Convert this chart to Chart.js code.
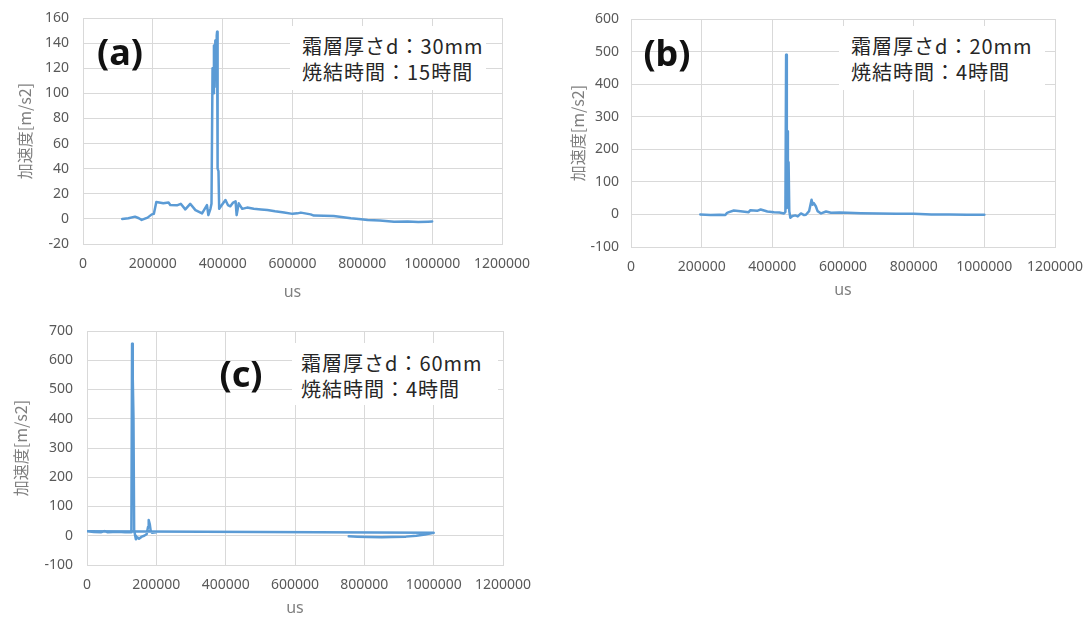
<!DOCTYPE html>
<html lang="ja">
<head>
<meta charset="utf-8">
<script src="https://cdn.jsdelivr.net/npm/chart.js@4.4.1/dist/chart.umd.min.js"></script>
<style>
  html, body { margin: 0; padding: 0; background: #fff; }
  body { width: 1086px; height: 618px; position: relative; overflow: hidden; font-family: 'Noto Sans CJK JP', sans-serif; }
  .panel { position: absolute; }
  .panel canvas { display: block; }
  .tag { position: absolute; transform: translate(-50%, -50%); font-family: 'Noto Sans', sans-serif; font-weight: bold; font-size: 36px; line-height: 1; color: #111; }
  .note { position: absolute; background: #fff; color: #262626; font-size: 20px; letter-spacing: 1px; line-height: 26px; white-space: nowrap; box-sizing: border-box; }
</style>
</head>
<body>

<div class="panel" style="left:0;top:0"><canvas id="chartA" width="530" height="300"></canvas></div>
<div class="panel" style="left:560px;top:0"><canvas id="chartB" width="526" height="300"></canvas></div>
<div class="panel" style="left:0;top:320px"><canvas id="chartC" width="532" height="298"></canvas></div>

<div class="tag" style="left:120px;top:52px">(a)</div>
<div class="tag" style="left:667px;top:53px">(b)</div>
<div class="tag" style="left:241px;top:374px">(c)</div>

<div class="note" style="left:290px;top:26px;width:196px;height:64px;padding:7px 0 0 12px">霜層厚さd：30mm<br>焼結時間：15時間</div>
<div class="note" style="left:839px;top:26px;width:206px;height:64px;padding:7px 0 0 12px">霜層厚さd：20mm<br>焼結時間：4時間</div>
<div class="note" style="left:292px;top:343px;width:206px;height:62px;padding:7px 0 0 9px">霜層厚さd：60mm<br>焼結時間：4時間</div>

<script>
// (a) d=30mm, 15h
const aTime = [
  112000, 130000, 149000, 160000, 168000, 185000, 197000, 203000, 210000, 230000,
  245000, 250000, 269000, 280000, 293000, 307000, 322000, 341000, 355000, 359000,
  365000, 368000, 371000, 373000, 375000, 377000, 379000, 381000, 383000, 384000,
  385500, 388000, 390000, 395000, 408000, 415000, 422000, 430000, 437000, 440000,
  446000, 456000, 470000, 489000, 510000, 528000, 550000, 576000, 600000, 614000,
  624000, 652000, 661000, 690000, 718000, 740000, 767000, 790000, 815000, 850000,
  891000, 930000, 960000, 988000, 1000000
];
const aAccel = [
  0, 0.5, 1.8, 0.5, -0.8, 1, 3.6, 4, 13.5, 12.5,
  13, 11, 10.8, 12, 7.6, 12, 7, 4.4, 11, 3,
  8, 12, 120, 100, 138, 105, 142, 118, 146, 149,
  40, 38, 8, 10, 15, 11, 10, 13, 14, 3,
  12.4, 8, 9, 8, 7.5, 7, 6, 5, 4, 4.4,
  5, 3.6, 2.6, 2.5, 2.3, 1.5, 0.5, 0, -0.9, -1.2,
  -2.2, -2, -2.5, -2.2, -2
];

// (b) d=20mm, 4h
const bTime = [
  196000, 225000, 250000, 267000, 272000, 277000, 291000, 310000, 333000, 338000,
  357000, 367000, 386000, 405000, 420000, 433000, 437000, 439000, 441000, 442500,
  444000, 446000, 448000, 451000, 457000, 465000, 472000, 481000, 490000, 495000,
  504000, 508000, 511000, 514000, 517000, 523000, 528000, 538000, 552000, 566000,
  590000, 613000, 650000, 700000, 750000, 800000, 850000, 900000, 950000, 1000000
];
const bAccel = [
  0, -2, -1, -2, 5, 7, 12, 10, 7, 13,
  11, 15, 9, 7, 6, 3, 8, 490, 20, 255,
  60, 160, 10, -10, -5, -3, -6, 3, -2, -1,
  10, 30, 45, 30, 35, 25, 10, 3, 9, 5,
  6, 5, 4, 3, 2, 2, 0, 0, -1, -1
];

// (c) d=60mm, 4h  (recording starts at the tail, then wraps to 0)
const cTime = [
  755000, 780000, 810000, 850000, 880000, 920000, 950000, 975000, 1000000,
  0, 20000, 40000, 50000, 60000, 89000, 110000, 128000, 130000, 132000,
  134000, 136000, 139000, 141000, 145000, 150000, 158000, 165000, 172000, 176000,
  178000, 181000, 184000, 188000, 200000
];
const cAccel = [
  -2, -3, -4, -5, -4, -3, 0, 4, 10,
  15, 13, 12, 16, 12, 14, 12, 12, 656, 539,
  408, 20, 0, -12, -5, -10, -3, 0, 5, 30,
  54, 40, 15, 10, 12
];

const xTicks = [0, 200000, 400000, 600000, 800000, 1000000, 1200000];

const TICK_COLOR = '#595959';
const TITLE_COLOR = '#7f7f7f';
const GRID_COLOR = '#d9d9d9';
const LINE_COLOR = '#5b9bd5';

function buildChart(canvasId, times, accel, cfg) {
  const ctx = document.getElementById(canvasId).getContext('2d');
  return new Chart(ctx, {
    type: 'line',
    data: {
      datasets: [{
        data: times.map((t, i) => ({ x: t, y: accel[i] })),
        borderColor: LINE_COLOR,
        borderWidth: 2.5,
        borderJoinStyle: 'round',
        borderCapStyle: 'round',
        pointRadius: 0,
        tension: 0,
        fill: false
      }]
    },
    options: {
      responsive: false,
      animation: false,
      devicePixelRatio: 1,
      layout: { padding: { top: cfg.top, right: cfg.right, left: 0, bottom: 0 } },
      plugins: { legend: { display: false }, tooltip: { enabled: false } },
      scales: {
        x: {
          type: 'linear',
          min: xTicks[0],
          max: xTicks[xTicks.length - 1],
          afterBuildTicks: s => { s.ticks = xTicks.map(v => ({ value: v })); },
          afterFit: s => { s.height = cfg.xh; s.paddingLeft = 0; s.paddingRight = 0; },
          ticks: {
            callback: v => String(v),
            color: TICK_COLOR,
            font: { family: "'Noto Sans', sans-serif", size: 14 },
            padding: 12,
            maxRotation: 0,
            autoSkip: false
          },
          grid: { color: GRID_COLOR, drawTicks: false },
          border: { color: GRID_COLOR },
          title: {
            display: true,
            text: 'us',
            color: TITLE_COLOR,
            font: { family: "'Noto Sans', sans-serif", size: 16 },
            padding: { top: 0, bottom: cfg.usPad }
          }
        },
        y: {
          min: cfg.ymin,
          max: cfg.ymax,
          afterFit: s => { s.width = cfg.yw; s.paddingTop = 0; s.paddingBottom = 0; },
          ticks: {
            stepSize: cfg.ystep,
            callback: v => String(v),
            color: TICK_COLOR,
            font: { family: "'Noto Sans', sans-serif", size: 14 },
            padding: cfg.ypad
          },
          grid: { color: GRID_COLOR, drawTicks: false },
          border: { color: GRID_COLOR },
          title: {
            display: true,
            text: '加速度[m/s2]',
            color: TITLE_COLOR,
            font: { family: "'Noto Sans CJK JP', sans-serif", size: 16 },
            padding: { top: cfg.titlePad, bottom: 0 }
          }
        }
      }
    }
  });
}

buildChart('chartA', aTime, aAccel, { top: 18, right: 28, yw: 83, xh: 56, ymin: -20, ymax: 160, ystep: 20, ypad: 14, titlePad: 15, usPad: -2 });
buildChart('chartB', bTime, bAccel, { top: 19, right: 31, yw: 71, xh: 53, ymin: -100, ymax: 600, ystep: 100, ypad: 12, titlePad: 8, usPad: 0 });
buildChart('chartC', cTime, cAccel, { top: 11, right: 29, yw: 87, xh: 53, ymin: -100, ymax: 700, ystep: 100, ypad: 14, titlePad: 11, usPad: 0 });
</script>
</body>
</html>
